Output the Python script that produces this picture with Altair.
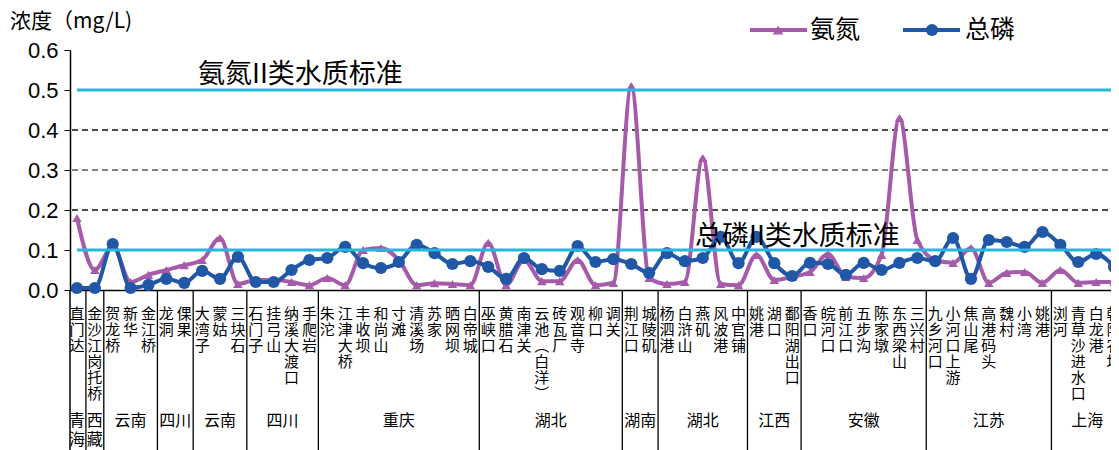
import altair as alt
import pandas as pd

# ---------------- data ----------------
stations = ["直门达", "金沙江岗托桥", "贺龙桥", "新华", "金江桥", "龙洞", "倮果",
            "大湾子", "蒙姑", "三块石", "石门子", "挂弓山", "纳溪大渡口", "手爬岩",
            "朱沱", "江津大桥", "丰收坝", "和尚山", "寸滩", "清溪场", "苏家", "晒网坝", "白帝城",
            "巫峡口", "黄腊石", "南津关", "云池（白洋）", "砖瓦厂", "观音寺", "柳口", "调关",
            "荆江口", "城陵矶",
            "杨泗港", "白浒山", "燕矶", "风波港", "中官铺",
            "姚港", "湖口", "鄱阳湖出口",
            "香口", "皖河口", "前江口", "五步沟", "陈家墩", "东西梁山", "三兴村",
            "九乡河口", "小河口上游", "焦山尾", "高港码头", "魏村", "小湾", "姚港",
            "浏河", "青草沙进水口", "白龙港", "朝阳农场"]

nh3 = [0.18, 0.05, 0.11, 0.02, 0.038, 0.05, 0.062,
       0.075, 0.13, 0.015, 0.025, 0.025, 0.02, 0.012,
       0.03, 0.012, 0.10, 0.105, 0.075, 0.012, 0.017, 0.015, 0.012,
       0.118, 0.012, 0.075, 0.022, 0.022, 0.075, 0.012, 0.018,
       0.51, 0.03,
       0.015, 0.02, 0.33, 0.015, 0.012,
       0.088, 0.025, 0.033,
       0.045, 0.09, 0.033, 0.03, 0.088, 0.43, 0.125,
       0.075, 0.068, 0.105, 0.018, 0.043, 0.045, 0.018,
       0.05, 0.018, 0.02, 0.02]

tp = [0.005, 0.005, 0.115, 0.005, 0.013, 0.028, 0.018,
      0.048, 0.028, 0.083, 0.02, 0.02, 0.05, 0.075,
      0.08, 0.108, 0.067, 0.055, 0.07, 0.113, 0.092, 0.065, 0.072,
      0.058, 0.028, 0.08, 0.052, 0.048, 0.11, 0.07, 0.077,
      0.065, 0.043,
      0.092, 0.072, 0.08, 0.133, 0.067,
      0.133, 0.067, 0.035,
      0.068, 0.065, 0.038, 0.068, 0.05, 0.068, 0.08,
      0.072, 0.13, 0.028, 0.125, 0.12, 0.108, 0.145,
      0.113, 0.07, 0.09, 0.058]

regions = ["青海", "西藏", "云南", "四川", "云南", "四川", "重庆", "湖北",
           "湖南", "湖北", "江西", "安徽", "江苏", "上海"]
region_sizes = [1, 1, 3, 2, 3, 4, 9, 8, 2, 5, 3, 7, 7, 4]

y_ticks = [0.0, 0.1, 0.2, 0.3, 0.4, 0.5, 0.6]
grid_levels = [0.2, 0.3, 0.4]
grid_colors = ["#111111", "#555555", "#111111"]
standards = [0.1, 0.5]

# ---------------- styling ----------------
PURPLE = "#A55BAA"
BLUE = "#2157A7"
CYAN = "#2BB5DC"
CJK = "Noto Sans CJK SC"

PAD_L, PAD_T, PAD_B = 62, 42, 160
TOTAL_W = 1103
W, H = TOTAL_W - PAD_L, 240
step = 17.88
xmin = -0.39
xmax = xmin + W / step

n = len(stations)


def vert(s):
    s = s.replace("（", "︵").replace("）", "︶")
    return "\n".join(list(s))


df = pd.DataFrame({"i": list(range(n)), "station": stations,
                   "label": [vert(s) for s in stations]})
long = pd.concat([
    pd.DataFrame({"i": list(range(n)), "v": nh3, "s": "氨氮"}),
    pd.DataFrame({"i": list(range(n)), "v": tp, "s": "总磷"}),
])

starts = []
acc = 0
for sz in region_sizes:
    starts.append(acc)
    acc += sz
reg_df = pd.DataFrame({
    "i": [st + (sz - 1) / 2 for st, sz in zip(starts, region_sizes)],
    "label": [("\n".join(list(r)) if sz == 1 else r) for r, sz in zip(regions, region_sizes)],
})
bounds_df = pd.DataFrame({"i": [st - 0.5 for st in starts[1:]]})

xscale = alt.Scale(domain=[xmin, xmax], nice=False, zero=False)
yscale = alt.Scale(domain=[0, 0.6], nice=False)
xaxis = alt.Axis(labels=False, ticks=False, grid=False, title=None,
                 domainColor="black", domainWidth=1.5)
yaxis = alt.Axis(values=y_ticks, format=".1f", labelFont="Liberation Sans",
                 labelFontSize=22, labelColor="black", tickColor="black",
                 tickSize=6, domainColor="black", domainWidth=1.5, grid=False,
                 title=None, labelPadding=6)
X = alt.X("i:Q", scale=xscale, axis=xaxis)
Y = alt.Y("v:Q", scale=yscale, axis=yaxis)

base = alt.Chart(long)

grid = alt.Chart(pd.DataFrame({"v": grid_levels, "c": grid_colors})).mark_rule(
    strokeWidth=1.3, strokeDash=[6, 4]
).encode(y=Y, x=alt.value(2), x2=alt.value(W),
         color=alt.Color("c:N", scale=None))

std = alt.Chart(pd.DataFrame({"v": standards})).mark_rule(
    color=CYAN, strokeWidth=3
).encode(y=Y, x=alt.value(7), x2=alt.value(W))

nh3_line = base.transform_filter("datum.s == '氨氮'").mark_line(
    color=PURPLE, strokeWidth=4, interpolate="monotone"
).encode(x=X, y=Y)
nh3_pts = base.transform_filter("datum.s == '氨氮'").mark_point(
    shape="triangle-up", filled=True, color=PURPLE, size=90, opacity=1
).encode(x=X, y=Y)
tp_line = base.transform_filter("datum.s == '总磷'").mark_line(
    color=BLUE, strokeWidth=4, interpolate="monotone"
).encode(x=X, y=Y)
tp_pts = base.transform_filter("datum.s == '总磷'").mark_circle(
    color=BLUE, size=150, opacity=1
).encode(x=X, y=Y)

station_text = alt.Chart(df).mark_text(
    font=CJK, fontSize=15, lineBreak="\n", lineHeight=16,
    baseline="top", align="center", color="black"
).encode(x=X, y=alt.value(257), text="label:N")

region_text = alt.Chart(reg_df).mark_text(
    font=CJK, fontSize=16, lineBreak="\n", lineHeight=19,
    baseline="top", align="center", color="black"
).encode(x=X, y=alt.value(363), text="label:N")

sep = alt.Chart(bounds_df).mark_rule(color="black", strokeWidth=1.3).encode(
    x=X, y=alt.value(H), y2=alt.value(H + PAD_B))
left_edge = alt.Chart(pd.DataFrame({"a": [0]})).mark_rule(
    color="black", strokeWidth=1.5
).encode(x=alt.value(0), y=alt.value(H), y2=alt.value(H + PAD_B))

one = pd.DataFrame({"a": [0]})
ytitle = alt.Chart(one).mark_text(
    font=CJK, fontSize=21, align="left", baseline="middle", color="black"
).encode(x=alt.value(-60), y=alt.value(-28), text=alt.value("浓度（mg/L)"))

ann1 = alt.Chart(one).mark_text(
    font=CJK, fontSize=27, align="left", baseline="middle", color="black"
).encode(x=alt.value(128), y=alt.value(25), text=alt.value("氨氮II类水质标准"))
ann2 = alt.Chart(one).mark_text(
    font=CJK, fontSize=27, align="left", baseline="middle", color="black"
).encode(x=alt.value(625), y=alt.value(187), text=alt.value("总磷II类水质标准"))

leg_y = -20
leg1_line = alt.Chart(one).mark_rule(color=PURPLE, strokeWidth=4).encode(
    x=alt.value(680), x2=alt.value(737), y=alt.value(leg_y))
leg1_pt = alt.Chart(one).mark_point(shape="triangle-up", filled=True, color=PURPLE,
                                    size=110, opacity=1).encode(
    x=alt.value(708), y=alt.value(leg_y))
leg1_txt = alt.Chart(one).mark_text(font=CJK, fontSize=25, align="left",
                                    baseline="middle", color="black").encode(
    x=alt.value(740), y=alt.value(leg_y), text=alt.value("氨氮"))
leg2_line = alt.Chart(one).mark_rule(color=BLUE, strokeWidth=4).encode(
    x=alt.value(833), x2=alt.value(890), y=alt.value(leg_y))
leg2_pt = alt.Chart(one).mark_circle(color=BLUE, size=150, opacity=1).encode(
    x=alt.value(862), y=alt.value(leg_y))
leg2_txt = alt.Chart(one).mark_text(font=CJK, fontSize=25, align="left",
                                    baseline="middle", color="black").encode(
    x=alt.value(895), y=alt.value(leg_y), text=alt.value("总磷"))

chart = alt.layer(
    grid, nh3_line, nh3_pts, tp_line, tp_pts, std,
    sep, left_edge, station_text, region_text,
    ytitle, ann1, ann2,
    leg1_line, leg1_pt, leg1_txt, leg2_line, leg2_pt, leg2_txt,
).properties(
    width=W, height=H,
    padding={"left": PAD_L, "top": PAD_T, "right": 0, "bottom": PAD_B},
    autosize=alt.AutoSizeParams(type="none"),
    background="white",
).configure_view(stroke=None)

chart.save("out.html", embed_options={"renderer": "svg", "actions": False})
